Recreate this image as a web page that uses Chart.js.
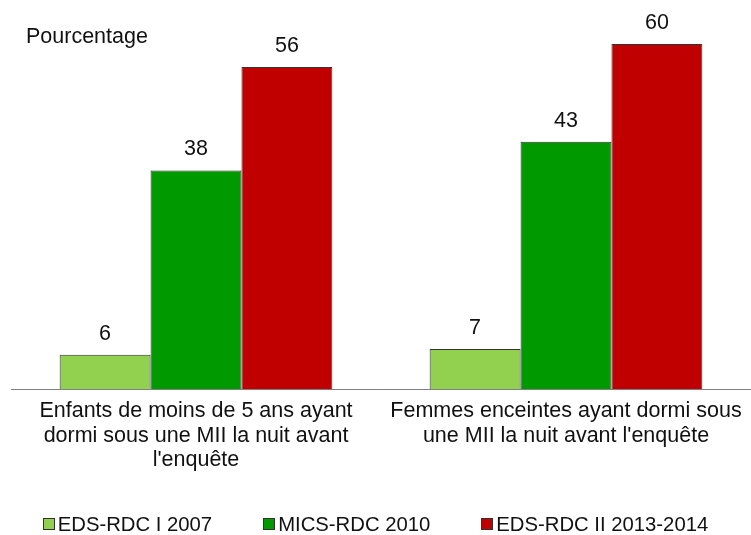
<!DOCTYPE html>
<html>
<head>
<meta charset="utf-8">
<script src="https://cdn.jsdelivr.net/npm/chart.js@4/dist/chart.umd.min.js"></script>
<style>
  html, body { margin: 0; padding: 0; background: #fff; }
  #wrap { position: relative; width: 751px; height: 535px; }
  #legend { position: absolute; left: 0; width: 751px; top: 512px; display: flex; justify-content: center; gap: 51px;
            font-family: "Liberation Sans", Arial, sans-serif; font-size: 20.3px; color: #111; line-height: 24px; }
  .item { display: flex; align-items: center; white-space: nowrap; }
  .box { width: 10px; height: 10px; border: 1px solid #333; margin-right: 3px; }
</style>
</head>
<body>
<div id="wrap">
  <canvas id="c" width="751" height="535"></canvas>
  <div id="legend"></div>
</div>
<script>
const categories = [
  ["Enfants de moins de 5 ans ayant", "dormi sous une MII la nuit avant", "l'enquête"],
  ["Femmes enceintes ayant dormi sous", "une MII la nuit avant l'enquête"]
];
const seriesNames = ["EDS-RDC I 2007", "MICS-RDC 2010", "EDS-RDC II 2013-2014"];
const eds2007 = [6, 7];
const mics2010 = [38, 43];
const eds2013 = [56, 60];
const colors = ["#92D050", "#009900", "#C00000"];
const yTitle = "Pourcentage";

const FONT = '"Liberation Sans", Arial, sans-serif';
const TXT = "#111";

const valueLabels = {
  id: "valueLabels",
  afterDatasetsDraw(chart) {
    const ctx = chart.ctx;
    ctx.save();
    ctx.font = "21.5px " + FONT;
    ctx.fillStyle = TXT;
    ctx.textAlign = "center";
    ctx.textBaseline = "middle";
    chart.data.datasets.forEach((ds, i) => {
      chart.getDatasetMeta(i).data.forEach((bar, j) => {
        ctx.fillText(String(ds.data[j]), bar.x, bar.y - 21);
      });
    });
    ctx.textAlign = "left";
    ctx.fillText(yTitle, chart.chartArea.left + 15, 37);
    ctx.restore();
  }
};

const datasets = [eds2007, mics2010, eds2013].map((d, i) => ({
  label: seriesNames[i],
  data: d,
  backgroundColor: colors[i],
  borderColor: "#333",
  borderWidth: 1,
  categoryPercentage: 0.737,
  barPercentage: 1.0
}));

new Chart(document.getElementById("c"), {
  type: "bar",
  data: { labels: categories, datasets },
  options: {
    responsive: false,
    animation: false,
    layout: { padding: { left: 11, right: 0, top: 21, bottom: 53 } },
    plugins: { legend: { display: false }, tooltip: { enabled: false } },
    scales: {
      y: { display: false, min: 0, max: 64 },
      x: {
        grid: { display: false, drawTicks: false },
        border: { display: true, color: "#808080", width: 1 },
        ticks: { font: { family: FONT, size: 21.5, lineHeight: 1.16 }, color: TXT, padding: 9, maxRotation: 0, autoSkip: false }
      }
    }
  },
  plugins: [valueLabels]
});

const lg = document.getElementById("legend");
seriesNames.forEach((n, i) => {
  const it = document.createElement("div");
  it.className = "item";
  const b = document.createElement("span");
  b.className = "box";
  b.style.background = colors[i];
  const t = document.createElement("span");
  t.textContent = n;
  it.appendChild(b); it.appendChild(t);
  lg.appendChild(it);
});
</script>
</body>
</html>
